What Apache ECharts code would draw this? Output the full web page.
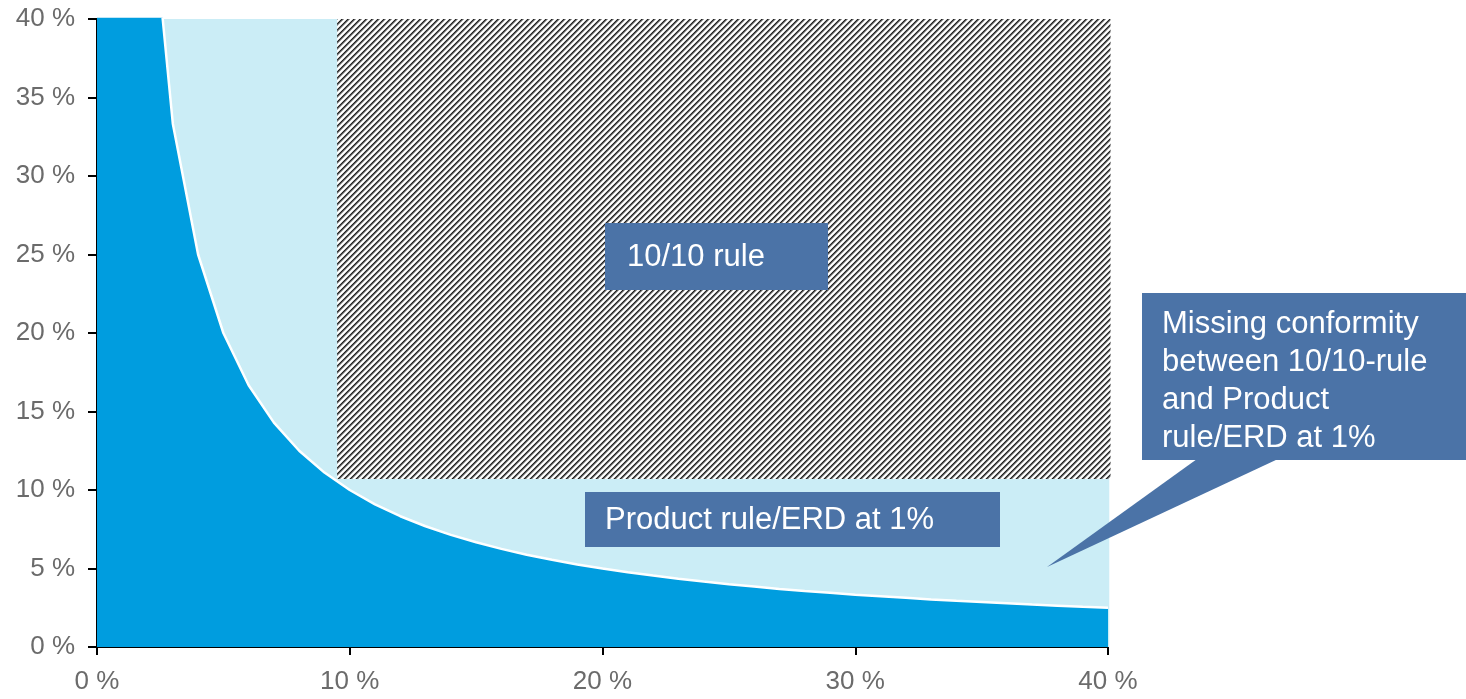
<!DOCTYPE html>
<html>
<head>
<meta charset="utf-8">
<title>10/10 rule vs Product rule/ERD at 1%</title>
<script src="https://cdn.jsdelivr.net/npm/echarts@6/dist/echarts.min.js"></script>
<style>
  html, body { margin: 0; padding: 0; background: #ffffff; }
  #chart { width: 1466px; height: 699px; }
</style>
</head>
<body>
<div id="chart"></div>
<script>
// Curve of the product rule: required ERD (%) for each PD (%)
const pdValues = [0, 1, 2, 3, 4, 5, 6, 7, 8, 9, 10, 11, 12, 13, 14, 15, 16, 17, 18, 19, 20,
  21, 22, 23, 24, 25, 26, 27, 28, 29, 30, 31, 32, 33, 34, 35, 36, 37, 38, 39, 40];
const erdValues = [100, 100, 50, 33.33, 25, 20, 16.67, 14.29, 12.5, 11.11, 10, 9.09, 8.33,
  7.69, 7.14, 6.67, 6.25, 5.88, 5.56, 5.26, 5, 4.76, 4.55, 4.35, 4.17, 4, 3.85, 3.7, 3.57,
  3.45, 3.33, 3.23, 3.13, 3.03, 2.94, 2.86, 2.78, 2.7, 2.63, 2.56, 2.5];

// Zones (x from, y from, x to, y to), in percent
const zoneNames = ['Product rule/ERD at 1%', '10/10 rule'];
const zoneXFrom = [2.4, 9.5];
const zoneYFrom = [0, 10.7];
const zoneXTo = [40.05, 40.1];
const zoneYTo = [40, 40];

// Axis ticks
const xTicks = [0, 10, 20, 30, 40];
const yTicks = [0, 5, 10, 15, 20, 25, 30, 35, 40];

const FONT = '"Liberation Sans", Arial, Helvetica, sans-serif';
const BOX = '#4b73a7';

// Diagonal hatch tile for the 10/10 zone
function hatchTile() {
  const n = 6;
  const c = document.createElement('canvas');
  c.width = n; c.height = n;
  const ctx = c.getContext('2d');
  const shades = ['#202020', '#5a5a5a', '#a8a8a8', '#ffffff', '#ffffff', '#d0d0d0'];
  for (let y = 0; y < n; y++) {
    for (let x = 0; x < n; x++) {
      ctx.fillStyle = shades[(x + y) % n];
      ctx.fillRect(x, y, 1, 1);
    }
  }
  return c;
}
const hatch = hatchTile();

const zoneData = zoneNames.map((name, i) => ({
  name: name,
  value: [zoneXFrom[i], zoneYFrom[i], zoneXTo[i], zoneYTo[i], i]
}));
const curveData = pdValues.map((x, i) => [x, erdValues[i]]);

const chart = echarts.init(document.getElementById('chart'), null, { renderer: 'canvas' });

chart.setOption({
  animation: false,
  backgroundColor: '#ffffff',
  grid: { left: 97, top: 19, width: 1011, height: 628, containLabel: false },
  xAxis: {
    type: 'value', min: 0, max: 40, interval: 10,
    axisLine: { show: true, lineStyle: { color: '#000000', width: 2 } },
    axisTick: { show: true, length: 8, lineStyle: { color: '#000000', width: 2 }, customValues: xTicks },
    axisLabel: {
      color: '#6b6b6b', fontFamily: FONT, fontSize: 26, margin: 22,
      customValues: xTicks,
      formatter: v => v + ' %'
    },
    splitLine: { show: false }
  },
  yAxis: {
    type: 'value', min: 0, max: 40, interval: 5,
    axisLine: { show: true, lineStyle: { color: '#000000', width: 2 } },
    axisTick: { show: true, length: 9, lineStyle: { color: '#000000', width: 2 }, customValues: yTicks },
    axisLabel: {
      color: '#6b6b6b', fontFamily: FONT, fontSize: 26, margin: 22,
      customValues: yTicks,
      formatter: v => v + ' %'
    },
    splitLine: { show: false }
  },
  series: [
    {
      type: 'custom',
      name: 'zones',
      z: 1,
      clip: false,
      data: zoneData,
      renderItem: function (params, api) {
        const tl = api.coord([api.value(0), api.value(3)]);
        const br = api.coord([api.value(2), api.value(1)]);
        const kind = api.value(4);
        return {
          type: 'rect',
          shape: { x: tl[0], y: tl[1], width: br[0] - tl[0], height: br[1] - tl[1] },
          style: {
            fill: kind === 0 ? '#cbedf6' : { image: hatch, repeat: 'repeat' },
            stroke: null
          }
        };
      }
    },
    {
      type: 'line',
      name: 'Product rule',
      z: 3,
      data: curveData,
      symbol: 'none',
      smooth: false,
      clip: true,
      lineStyle: { color: '#ffffff', width: 2.5 },
      areaStyle: { color: '#009ddf', opacity: 1 },
      emphasis: { disabled: true }
    }
  ],
  graphic: [
    // 10/10 rule label
    {
      type: 'rect', z: 100,
      shape: { x: 605, y: 223, width: 223, height: 67 },
      style: { fill: BOX }
    },
    {
      type: 'text', z: 101, x: 627, y: 257,
      style: { text: '10/10 rule', fill: '#ffffff', font: '31px ' + FONT, verticalAlign: 'middle' }
    },
    // Product rule label
    {
      type: 'rect', z: 100,
      shape: { x: 585, y: 492, width: 415, height: 55 },
      style: { fill: BOX }
    },
    {
      type: 'text', z: 101, x: 605, y: 520,
      style: { text: 'Product rule/ERD at 1%', fill: '#ffffff', font: '31px ' + FONT, verticalAlign: 'middle' }
    },
    // Callout with pointer
    {
      type: 'polygon', z: 100,
      shape: { points: [[1197, 459], [1278, 459], [1047, 567]] },
      style: { fill: BOX }
    },
    {
      type: 'rect', z: 100,
      shape: { x: 1142, y: 293, width: 330, height: 167 },
      style: { fill: BOX }
    },
    {
      type: 'text', z: 101, x: 1162, y: 305,
      style: {
        text: 'Missing conformity\nbetween 10/10-rule\nand Product\nrule/ERD at 1%',
        fill: '#ffffff', font: '31px ' + FONT, lineHeight: 38, verticalAlign: 'top'
      }
    }
  ]
});
</script>
</body>
</html>
